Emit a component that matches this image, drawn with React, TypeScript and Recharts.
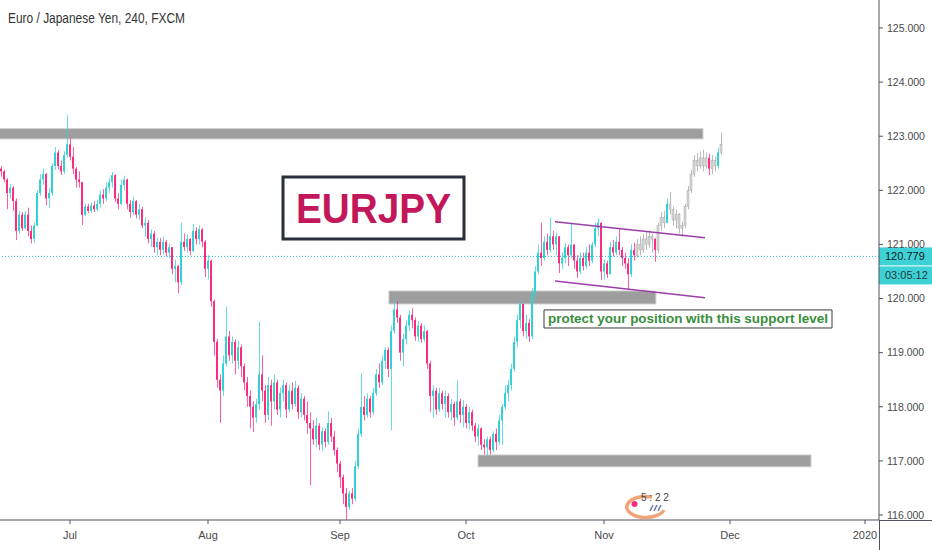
import React from 'react'
import { ComposedChart, Bar, XAxis, YAxis, ReferenceArea, ReferenceLine } from 'recharts'

const firstOpen = 122.4

const closes = [
  122.35, 122.2, 121.95, 122.05, 121.8, 121.25, 121.55, 121.3, 121.55, 121.25,
  121.1, 121.35, 121.95, 122.2, 122.3, 121.85, 121.95, 122.45, 122.7, 122.45,
  122.35, 122.65, 122.85, 122.62, 122.4, 122.2, 122.15, 121.55, 121.7, 121.62,
  121.72, 121.65, 121.75, 121.92, 121.85, 122.05, 122.15, 122.28, 121.85, 121.75,
  122.1, 122.2, 121.75, 121.6, 121.8, 121.55, 121.65, 121.35, 121.4, 121.1,
  121.2, 120.95, 121.05, 120.9, 121.05, 120.85, 120.95, 120.55, 120.6, 120.3,
  121.05, 120.95, 121.1, 120.88, 121.25, 121.1, 121.28, 121.05, 120.55, 120.7,
  119.95, 119.2, 118.5, 118.3, 118.8, 119.3, 118.95, 119.2, 118.85, 119.1,
  118.75, 118.45, 118.2, 118.0, 117.8, 118.05, 118.6, 118.3, 117.85, 118.4,
  118.1, 118.45, 117.95, 118.25, 118.4, 117.95, 118.3, 118.05, 118.35, 117.9,
  118.15, 117.85, 117.7, 117.6, 117.4, 117.65, 117.3, 117.55, 117.35, 117.7,
  117.45, 117.2, 116.95, 116.7, 116.4, 116.15, 116.4, 116.3, 116.9, 117.5,
  118.0, 117.85, 118.15, 117.9, 118.25, 118.6, 118.45, 118.85, 119.05, 118.7,
  119.4, 119.8, 119.65, 119.0, 119.25, 119.5, 119.7, 119.6, 119.3, 119.5,
  119.25, 119.4, 118.8, 118.2, 118.3, 117.95, 118.25, 118.05, 118.2, 117.9,
  118.05, 117.8, 118.1, 117.85, 118.0, 117.7, 117.9, 117.65, 117.45, 117.6,
  117.3, 117.25, 117.4, 117.2, 117.5, 117.35, 117.75, 118.0, 118.25, 118.4,
  118.7, 119.2, 119.6, 119.9, 119.4, 119.55, 119.3, 120.1, 120.5, 120.85,
  120.75, 121.05, 120.9, 121.15, 121.0, 121.15, 120.65, 120.75, 120.95, 120.8,
  121.0, 120.7, 120.5, 120.75, 120.6, 120.85, 120.7, 121.0, 121.3, 121.4,
  120.5, 120.65, 120.45, 120.95, 120.85, 121.05, 120.9, 120.75, 120.65, 120.45,
  120.9, 120.8, 121.0, 120.9, 121.1, 121.0, 121.15, 121.1, 120.9, 121.35,
  121.5, 121.4, 121.75, 121.65, 121.45, 121.55, 121.3, 121.35, 121.7, 122.0,
  122.3, 122.55, 122.45, 122.6, 122.45, 122.6, 122.4, 122.55, 122.45, 122.7,
  122.85
]

const highs = [
  122.45, 122.38, 122.22, 122.12, 122.08, 121.85, 121.62, 121.6, 121.62, 121.68,
  121.35, 121.4, 122.0, 122.3, 122.4, 122.32, 122.05, 122.5, 122.8, 122.75,
  122.55, 122.72, 123.39, 122.97, 122.8, 122.43, 122.35, 122.15, 121.75, 121.75,
  121.78, 121.8, 121.82, 122.0, 122.02, 122.15, 122.22, 122.34, 122.3, 121.95,
  122.2, 122.26, 122.22, 121.82, 121.88, 121.82, 121.75, 121.7, 121.5, 121.45,
  121.28, 121.25, 121.12, 121.12, 121.15, 121.08, 121.02, 120.95, 120.72, 120.62,
  121.4, 121.2, 121.18, 121.12, 121.38, 121.32, 121.35, 121.3, 121.08, 120.8,
  120.72, 119.98, 119.25, 118.6, 118.95, 119.85, 119.4, 119.3, 119.25, 119.22,
  119.15, 118.8, 118.55, 118.3, 118.1, 118.15, 119.57, 118.95, 118.4, 118.55,
  118.5, 118.6, 118.5, 118.35, 118.5, 118.45, 118.4, 118.45, 118.48, 118.4,
  118.25, 118.2, 118.1, 117.9, 117.75, 117.8, 117.7, 117.62, 117.6, 117.92,
  117.8, 117.55, 117.25, 117.0, 116.75, 116.5, 116.45, 116.5, 117.0, 117.6,
  118.62, 118.2, 118.25, 118.2, 118.35, 118.7, 118.8, 118.95, 119.1, 119.1,
  119.5, 119.97, 119.95, 119.7, 119.35, 119.6, 119.78, 119.82, 119.65, 119.58,
  119.55, 119.5, 119.42, 118.85, 118.4, 118.35, 118.35, 118.3, 118.3, 118.25,
  118.15, 118.1, 118.49, 118.15, 118.12, 118.05, 118.0, 117.95, 117.7, 117.68,
  117.62, 117.4, 117.45, 117.45, 117.55, 117.6, 117.85, 118.05, 118.4, 118.5,
  118.8, 119.3, 119.7, 119.97, 119.9, 119.7, 119.62, 120.2, 120.6, 121.0,
  121.4, 121.15, 121.2, 121.5, 121.25, 121.22, 121.15, 120.85, 121.03, 121.0,
  121.4, 121.0, 120.8, 120.85, 120.85, 120.95, 121.0, 121.05, 121.4, 121.49,
  121.4, 120.72, 120.7, 121.05, 121.08, 121.15, 121.3, 120.95, 120.85, 120.75,
  121.0, 121.03, 121.1, 121.15, 121.2, 121.25, 121.27, 121.2, 121.12, 121.4,
  121.6, 121.62, 121.85, 121.97, 121.7, 121.65, 121.58, 121.42, 121.75, 122.08,
  122.38, 122.65, 122.69, 122.72, 122.75, 122.7, 122.68, 122.65, 122.62, 122.78,
  123.06
]

const lows = [
  122.25, 122.15, 121.65, 121.85, 121.62, 121.08, 121.2, 121.25, 121.28, 121.15,
  121.02, 121.03, 121.35, 121.9, 122.1, 121.72, 121.68, 121.9, 122.38, 122.38,
  122.28, 122.3, 122.6, 122.55, 122.3, 122.05, 122.05, 121.36, 121.52, 121.58,
  121.58, 121.6, 121.62, 121.68, 121.75, 121.8, 121.95, 122.05, 121.78, 121.65,
  121.72, 122.0, 121.65, 121.5, 121.55, 121.48, 121.45, 121.3, 121.15, 121.02,
  120.95, 120.85, 120.8, 120.8, 120.82, 120.78, 120.75, 120.45, 120.3, 120.1,
  120.25, 120.88, 120.85, 120.8, 120.85, 121.0, 121.0, 120.95, 120.4, 120.35,
  119.85, 118.95, 118.35, 117.7, 118.2, 118.75, 118.85, 118.8, 118.6, 118.7,
  118.55, 118.3, 118.0, 117.6, 117.53, 117.7, 117.95, 118.1, 117.7, 117.75,
  117.65, 117.95, 117.85, 117.8, 118.1, 117.8, 117.9, 117.95, 118.0, 117.78,
  117.8, 117.75, 117.5, 116.55, 117.3, 117.25, 117.2, 117.18, 117.25, 117.3,
  117.35, 117.1, 116.8, 116.5, 116.2, 115.9, 116.1, 116.2, 116.25, 116.85,
  117.45, 117.75, 117.8, 117.8, 117.85, 118.2, 118.35, 118.4, 118.7, 118.55,
  117.57, 119.35, 119.55, 118.85, 118.75, 119.15, 119.4, 119.45, 119.22, 119.2,
  119.18, 119.2, 118.7, 117.9, 117.8, 117.85, 117.9, 117.95, 117.8, 117.8,
  117.75, 117.65, 117.75, 117.7, 117.62, 117.6, 117.58, 117.55, 117.35, 117.28,
  117.2, 117.12, 117.1, 117.12, 117.15, 117.2, 117.3, 117.3, 117.95, 118.1,
  118.3, 118.65, 119.1, 119.45, 119.3, 119.25, 119.2, 119.25, 120.0, 120.45,
  120.6, 120.7, 120.8, 120.85, 120.9, 120.8, 120.47, 120.55, 120.65, 120.6,
  120.75, 120.55, 120.38, 120.45, 120.52, 120.55, 120.6, 120.65, 120.95, 121.15,
  120.34, 120.35, 120.38, 120.45, 120.78, 120.8, 120.8, 120.6, 120.55, 120.16,
  120.4, 120.7, 120.75, 120.8, 120.85, 120.9, 120.95, 120.85, 120.68, 120.85,
  121.25, 121.3, 121.4, 121.55, 121.35, 121.3, 121.2, 121.14, 121.3, 121.65,
  121.95, 122.25, 122.35, 122.4, 122.35, 122.4, 122.28, 122.3, 122.35, 122.4,
  122.65
]

// bars shown in grey at the right end, with the few that keep their colour
const greyFrom = 212
const keepColour = [218, 222, 236, 239]

// time axis: bar index where each month starts
const monthTicks = [23, 69, 113, 155, 201, 243, 288]
const monthLabels = ['Jul', 'Aug', 'Sep', 'Oct', 'Nov', 'Dec', '2020']
const priceTicks = [116, 117, 118, 119, 120, 121, 122, 123, 124, 125]

const lastPrice = 120.779
const countdown = '03:05:12'

// drawn zones [bar from, bar to, price low, price high]
const zones = [
  [-2, 234, 122.95, 123.14],
  [129.3, 218.3, 119.9, 120.14],
  [159, 270, 116.89, 117.11]
]
// channel lines [bar, price, bar, price]
const channel = [
  [184.67, 121.42, 234.67, 121.125],
  [184.67, 120.324, 234.67, 120.016]
]

const UP = '#2fd2d8'
const DOWN = '#ff2a7f'
const FONT = '"Liberation Sans", Arial, sans-serif'

const data = closes.map((c, i) => ({
  i,
  o: i === 0 ? firstOpen : closes[i - 1],
  c,
  h: highs[i],
  l: lows[i],
  range: [lows[i], highs[i]]
}))

function Candle(props: any) {
  const { x, y, width, height, payload } = props
  if (x == null || y == null) return null
  const { o, c, h, l, i } = payload
  const top = Math.min(y, y + height)
  const full = Math.abs(height)
  const k = full / (h - l || 1)
  const bodyTop = top + (h - Math.max(o, c)) * k
  const bodyH = Math.max(1, Math.abs(o - c) * k)
  const grey = i >= greyFrom && !keepColour.includes(i)
  const up = c >= o
  const body = grey ? '#d9d9d9' : up ? UP : DOWN
  const wick = grey ? '#a5a5a5' : up ? UP : DOWN
  return (
    <g>
      <rect x={Math.round(x) + 1} y={top} width={1} height={Math.max(1, full)} fill={wick} fillOpacity={0.75} />
      <rect x={Math.round(x)} y={bodyTop} width={width} height={bodyH} fill={body} stroke={grey ? '#a5a5a5' : 'none'} strokeWidth={grey ? 0.5 : 0} />
    </g>
  )
}

function BoxText(props: any) {
  const { viewBox, text, color, size, weight, length, align } = props
  if (!viewBox) return null
  const { x, y, width, height } = viewBox
  const cx = align === 'start' ? x + 4 : x + width / 2
  return (
    <text
      x={cx}
      y={y + height / 2}
      fill={color}
      fontSize={size}
      fontWeight={weight}
      fontFamily={FONT}
      textAnchor={align === 'start' ? 'start' : 'middle'}
      dominantBaseline='central'
      textLength={length}
      lengthAdjust='spacingAndGlyphs'
    >
      {text}
    </text>
  )
}

function PriceTag(props: any) {
  const { viewBox } = props
  if (!viewBox) return null
  const left = viewBox.x + viewBox.width
  const cy = viewBox.y
  return (
    <g fontFamily={FONT} fontSize={11}>
      <rect x={left} y={cy - 9} width={932 - left} height={18} fill='#3ed2d6' />
      <text x={left + 6} y={cy + 4} fill='#131722'>{lastPrice.toFixed(3)}</text>
      <rect x={left} y={cy + 10} width={932 - left} height={18} fill='#3ed2d6' />
      <text x={left + 6} y={cy + 23} fill='#1e3a3a'>{countdown}</text>
    </g>
  )
}

export default function App() {
  return (
    <div style={{ position: 'relative', width: 932, height: 550, background: '#fff' }}>
      <style>{'body{margin:0;background:#fff}'}</style>
      <ComposedChart width={932} height={550} data={data} margin={{ top: 0, right: 0, bottom: 0, left: 0 }}>
        <XAxis
          dataKey='i'
          type='number'
          domain={[-1 / 3, 292 + 2 / 3]}
          allowDataOverflow
          ticks={monthTicks}
          tickFormatter={(v: number) => monthLabels[monthTicks.indexOf(v)] ?? ''}
          height={30}
          tickSize={4}
          tickMargin={7}
          axisLine={{ stroke: '#50535e' }}
          tickLine={{ stroke: '#50535e' }}
          tick={{ fontSize: 11, fill: '#4a4a4a', fontFamily: FONT }}
        />
        <YAxis
          orientation='right'
          type='number'
          domain={[115.908, 125.517]}
          allowDataOverflow
          ticks={priceTicks}
          tickFormatter={(v: number) => v.toFixed(3)}
          width={53}
          tickSize={4}
          tickMargin={4}
          axisLine={{ stroke: '#50535e' }}
          tickLine={{ stroke: '#50535e' }}
          tick={{ fontSize: 10.5, fill: '#4a4a4a', fontFamily: FONT }}
        />
        {zones.map(([x1, x2, y1, y2], k) => (
          <ReferenceArea
            key={'z' + k}
            x1={x1}
            x2={x2}
            y1={y1}
            y2={y2}
            fill='#9e9e9e'
            fillOpacity={1}
            stroke='#cfcfcf'
            strokeWidth={1}
            ifOverflow='hidden'
          />
        ))}
        <ReferenceLine y={lastPrice} stroke='#1fc4d0' strokeDasharray='1 2' strokeWidth={1} label={<PriceTag />} />
        <Bar dataKey='range' barSize={2} isAnimationActive={false} shape={(p: any) => <Candle {...p} />} />
        {channel.map(([xa, ya, xb, yb], k) => (
          <ReferenceLine
            key={'c' + k}
            segment={[{ x: xa, y: ya }, { x: xb, y: yb }]}
            stroke='#9b3fa8'
            strokeWidth={1.5}
            ifOverflow='visible'
          />
        ))}
        <ReferenceArea
          x1={94}
          x2={154.33}
          y1={121.1}
          y2={122.246}
          fill='#ffffff'
          fillOpacity={1}
          stroke='#2a2e39'
          strokeWidth={3}
          ifOverflow='visible'
          label={<BoxText text='EURJPY' color='#c2185b' size={43} weight={700} length={155} />}
        />
        <ReferenceArea
          x1={181}
          x2={277}
          y1={119.456}
          y2={119.79}
          fill='#ffffff'
          fillOpacity={1}
          stroke='#3a3a3a'
          strokeWidth={1}
          ifOverflow='visible'
          label={
            <BoxText
              text='protect your position with this support level'
              color='#388e3c'
              size={12.5}
              weight={700}
              length={280}
              align='start'
            />
          }
        />
      </ComposedChart>
      <svg width={932} height={550} style={{ position: 'absolute', left: 0, top: 0, pointerEvents: 'none' }}>
        <text x={8} y={22.5} fontFamily={FONT} fontSize={14} fill='#333' textLength={177} lengthAdjust='spacingAndGlyphs'>
          Euro / Japanese Yen, 240, FXCM
        </text>
        <line x1={879.5} y1={520} x2={879.5} y2={550} stroke='#50535e' />
        <line x1={879} y1={520.5} x2={932} y2={520.5} stroke='#50535e' />
        <g>
          <path d='M 652 497 A 19 10.5 0 1 0 664 510' stroke='#f0a47a' strokeWidth={3.5} fill='none' />
          <circle cx={634.5} cy={504} r={3} fill='#ff2a7f' />
          <path d='M 650 511 l 3 -6 M 654 511 l 3 -6 M 658 511 l 3 -6' stroke='#6a7fa8' strokeWidth={1.5} />
          <text x={641} y={501} fontFamily={FONT} fontSize={10} fill='#444'>5 : 2 2</text>
        </g>
      </svg>
    </div>
  )
}
